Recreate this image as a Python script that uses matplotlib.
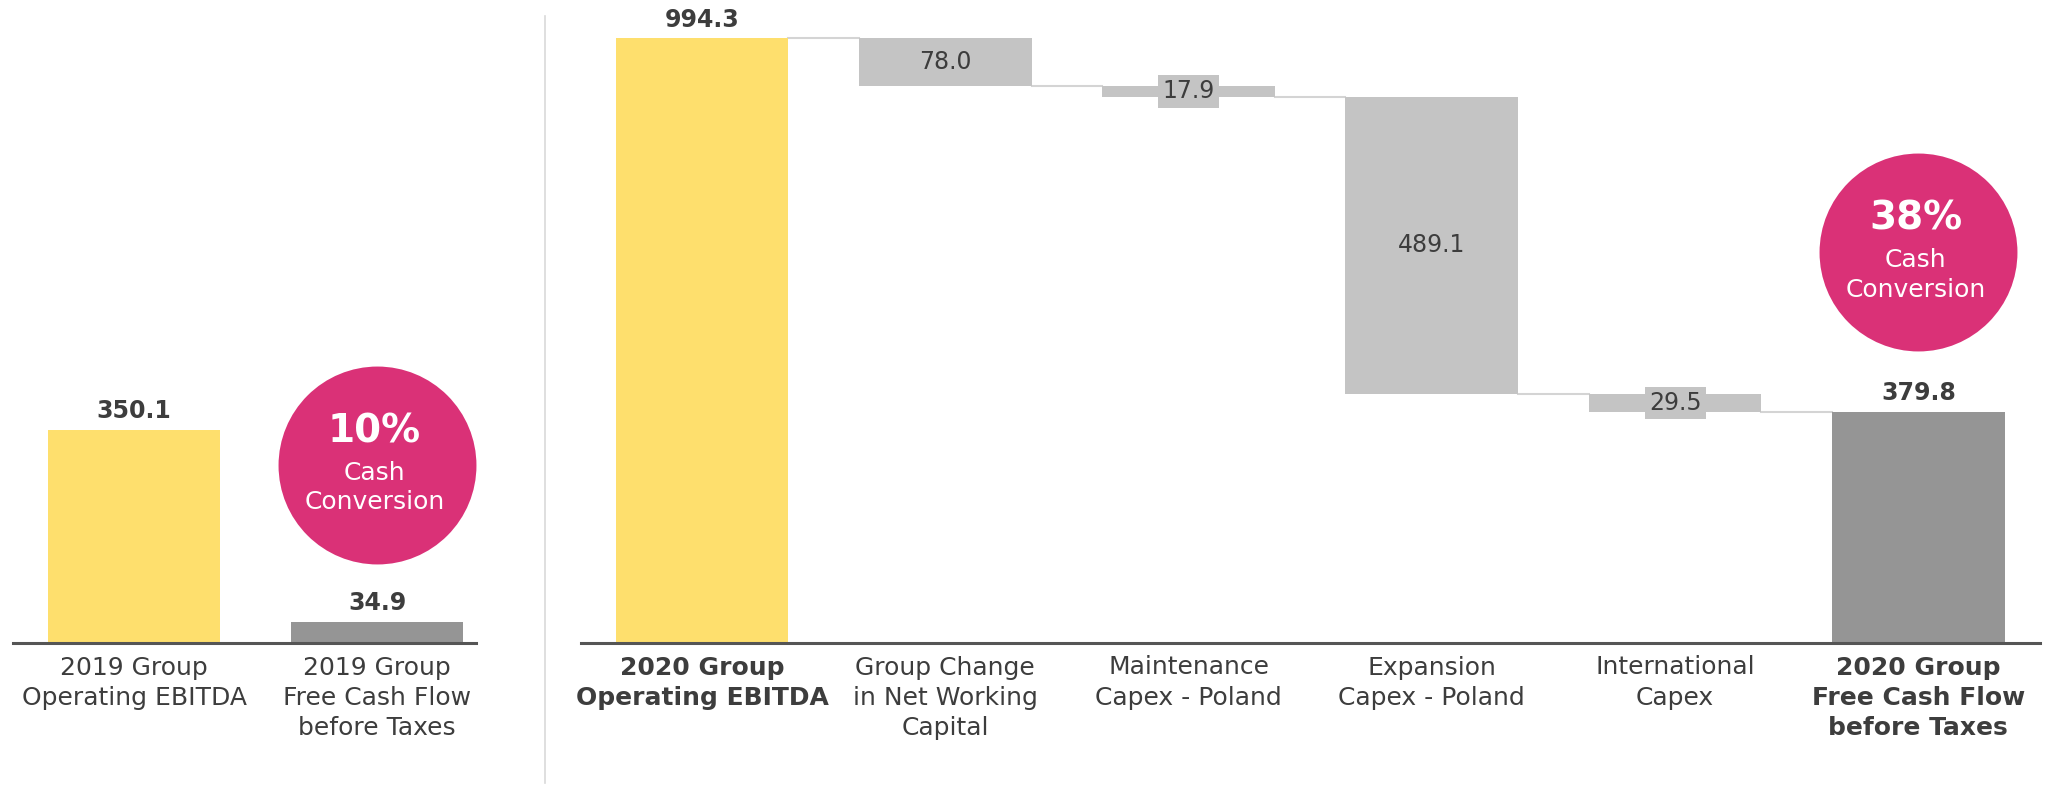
import matplotlib
matplotlib.use("Agg")
import matplotlib.pyplot as plt
from matplotlib.lines import Line2D

# data
left_cats = ["2019 Group\nOperating EBITDA", "2019 Group\nFree Cash Flow\nbefore Taxes"]
left_vals = [350.1, 34.9]
left_conv = "10%"

wf_cats = ["2020 Group\nOperating EBITDA", "Group Change\nin Net Working\nCapital",
           "Maintenance\nCapex - Poland", "Expansion\nCapex - Poland",
           "International\nCapex", "2020 Group\nFree Cash Flow\nbefore Taxes"]
wf_vals = [994.3, -78.0, -17.9, -489.1, -29.5, 379.8]
right_conv = "38%"

YELLOW = "#FEDF6D"
DARK_GREY = "#959595"
LIGHT_GREY = "#C4C4C4"
PINK = "#DA3177"
TXT = "#3d3d3d"

plt.rcParams["font.family"] = ["DejaVu Sans"]

W, H = 2046, 785
fig = plt.figure(figsize=(W / 100, H / 100), dpi=100)
ax1 = fig.add_axes([13 / W, 142 / H, 463 / W, 633 / H])
ax2 = fig.add_axes([581 / W, 142 / H, 1459 / W, 633 / H])
ymax = 633 / 0.608
bw = 0.71

for ax in (ax1, ax2):
    ax.set_ylim(0, ymax)
    for s in ("top", "right", "left"):
        ax.spines[s].set_visible(False)
    ax.spines["bottom"].set_color("#555555")
    ax.spines["bottom"].set_linewidth(2.2)
    ax.set_yticks([])
    ax.tick_params(axis="x", length=0, pad=9, labelsize=18, labelcolor=TXT)

# left panel
ax1.set_xlim(-0.498, 1.407)
ax1.bar([0, 1], left_vals, width=bw, color=[YELLOW, DARK_GREY], zorder=2)
for i, v in enumerate(left_vals):
    ax1.annotate(f"{v:.1f}", (i, v), xytext=(0, 5), textcoords="offset points",
                 ha="center", va="bottom", fontsize=17, fontweight="bold", color=TXT)
ax1.set_xticks([0, 1])
ax1.set_xticklabels(left_cats, linespacing=1.33)

# right panel: waterfall
ax2.set_xlim(-0.4975, 5.5)
running = 0
levels = []
for i, v in enumerate(wf_vals):
    if i == 0 or i == len(wf_vals) - 1:
        ax2.bar(i, v, width=bw, color=YELLOW if i == 0 else DARK_GREY, zorder=2)
        ax2.annotate(f"{v:.1f}", (i, v), xytext=(0, 5), textcoords="offset points",
                     ha="center", va="bottom", fontsize=17, fontweight="bold", color=TXT)
        running = v
    else:
        bottom = running + v
        ax2.bar(i, -v, bottom=bottom, width=bw, color=LIGHT_GREY, zorder=2)
        small = -v < 40
        ax2.text(i, bottom - v / 2, f"{-v:.1f}", ha="center", va="center", fontsize=17,
                 color=TXT, zorder=3,
                 bbox=dict(boxstyle="square,pad=0.18", fc=LIGHT_GREY, ec="none") if small else None)
        running = bottom
    levels.append(running)

for i in range(len(wf_vals) - 1):
    ax2.plot([i + bw / 2, i + 1 - bw / 2], [levels[i], levels[i]], color="#d4d4d4", lw=1.5, zorder=1)

ax2.set_xticks(range(len(wf_cats)))
ax2.set_xticklabels(wf_cats, linespacing=1.33)
for k in (0, len(wf_cats) - 1):
    ax2.get_xticklabels()[k].set_fontweight("bold")

# cash conversion bubbles
for ax, x, y, pct in ((ax1, 1, 293, left_conv), (ax2, 5, 643, right_conv)):
    ax.scatter([x], [y], s=142.5 ** 2, color=PINK, zorder=4, clip_on=False, linewidths=0)
    ax.annotate(pct, (x, y), xytext=(-2, 24), textcoords="offset points", ha="center", va="center",
                fontsize=28, fontweight="bold", color="white", zorder=5)
    ax.annotate("Cash", (x, y), xytext=(-2, -6), textcoords="offset points", ha="center", va="center",
                fontsize=18, color="white", zorder=5)
    ax.annotate("Conversion", (x, y), xytext=(-2, -27), textcoords="offset points", ha="center", va="center",
                fontsize=18, color="white", zorder=5)

# separator between panels
fig.add_artist(Line2D([545 / W, 545 / W], [2 / H, 769 / H], color="#d9d9d9", lw=1.2))

fig.savefig("out.png", dpi=100, facecolor="white")
